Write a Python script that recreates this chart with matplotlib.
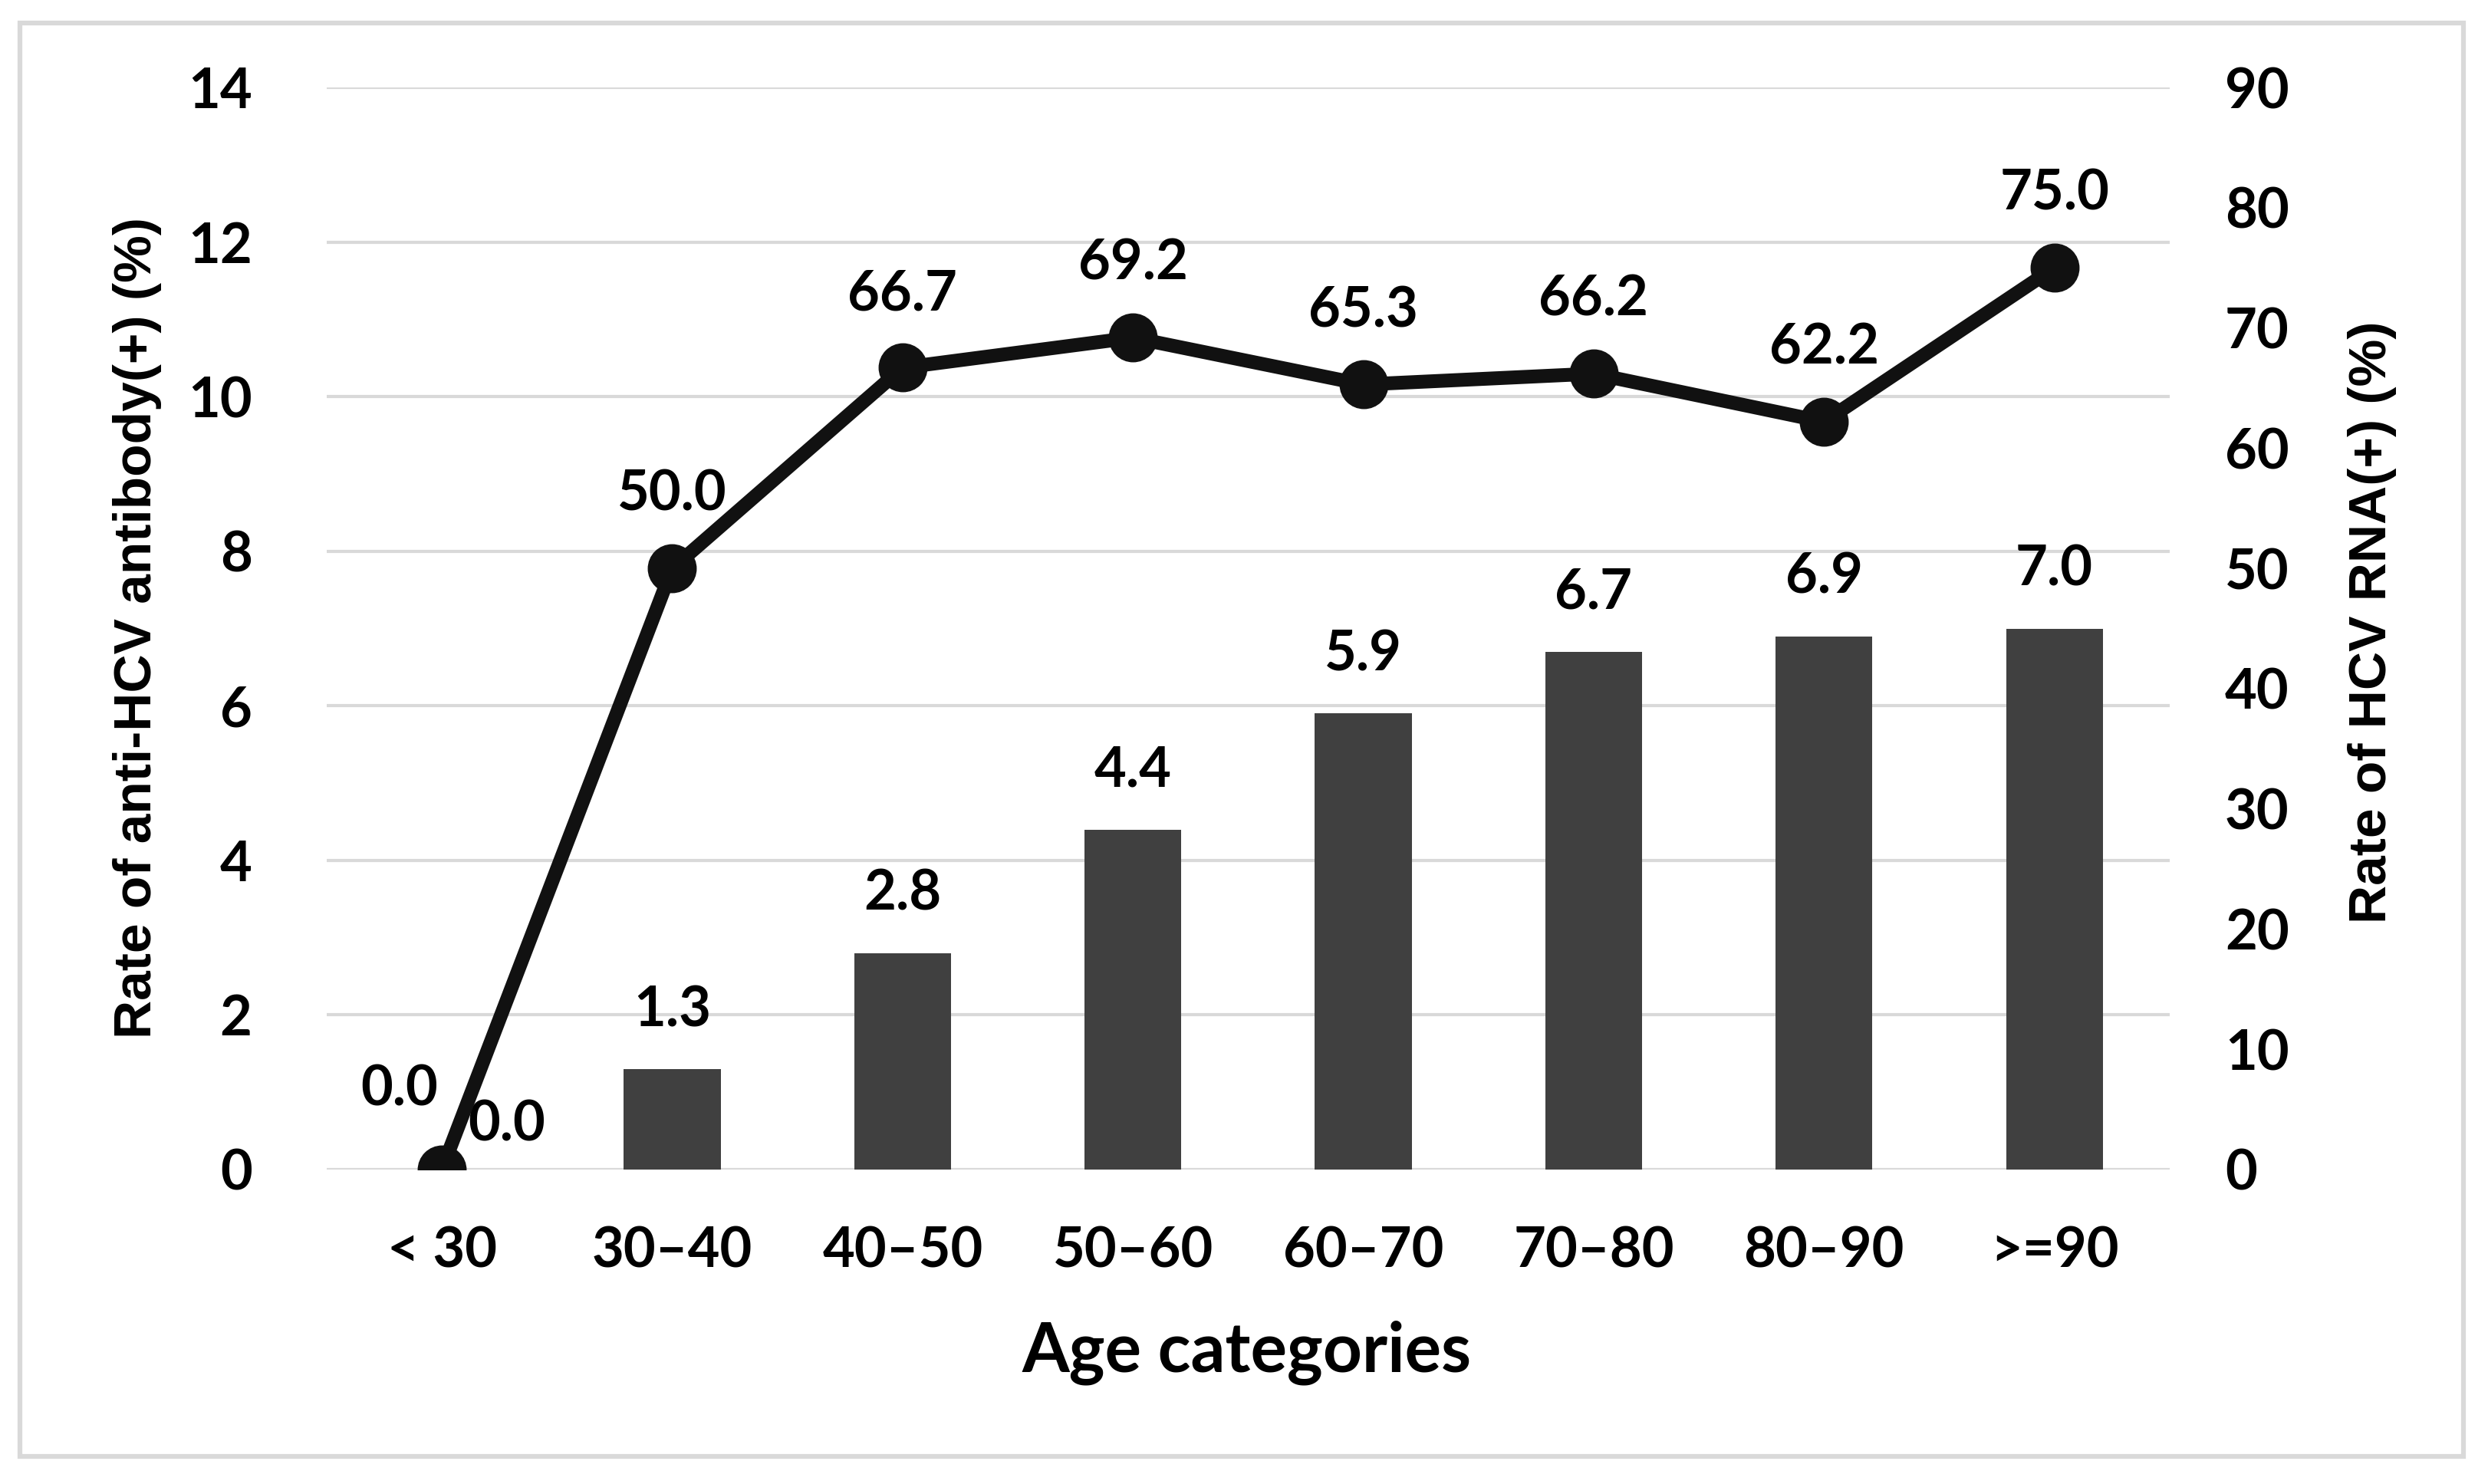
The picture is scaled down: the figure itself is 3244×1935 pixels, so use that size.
import matplotlib
matplotlib.use("Agg")
import matplotlib.pyplot as plt
from matplotlib.patches import Rectangle

# dados
categorias = ["< 30", "30\u201340", "40\u201350", "50\u201360", "60\u201370", "70\u201380", "80\u201390", ">=90"]
taxa_anticorpo = [0.0, 1.3, 2.8, 4.4, 5.9, 6.7, 6.9, 7.0]
taxa_rna = [0.0, 50.0, 66.7, 69.2, 65.3, 66.2, 62.2, 75.0]
ticks_esq = [0, 2, 4, 6, 8, 10, 12, 14]
ticks_dir = [0, 10, 20, 30, 40, 50, 60, 70, 80, 90]

fonte = ["Lato", "DejaVu Sans"]
fonte_estreita = ["Liberation Sans Narrow", "Liberation Sans", "DejaVu Sans"]

fig = plt.figure(figsize=(32.44, 19.35), dpi=100)
ax1 = fig.add_axes([0.1313, 0.2119, 0.8720 - 0.1313, 0.941 - 0.2119])
ax2 = ax1.twinx()

# moldura externa
fig.patches.append(Rectangle((0.008, 0.0186), 0.982, 0.966, transform=fig.transFigure,
                             fill=False, edgecolor="#d9d9d9", linewidth=4.5))

x = list(range(len(categorias)))

# barras
ax1.bar(x, taxa_anticorpo, width=0.42, color="#404040", linewidth=0, zorder=2)
ax1.set_ylim(0, 14)
ax1.set_xlim(-0.5, len(categorias) - 0.5)
ax1.set_yticks(ticks_esq)
ax1.yaxis.grid(True, color="#d9d9d9", linewidth=3)
ax1.set_axisbelow(True)

# linha
ax2.plot(x, taxa_rna, color="#111111", linewidth=13, marker="o", markersize=45, zorder=3)
ax2.set_ylim(0, 90)
ax2.set_yticks(ticks_dir)

for ax in (ax1, ax2):
    for s in ax.spines.values():
        s.set_visible(False)
    ax.tick_params(length=0)

ax1.set_xticks(x)
ax1.set_xticklabels(categorias, fontsize=52, fontweight="bold", family=fonte)
ax1.tick_params(axis="x", pad=53)
ax1.tick_params(axis="y", pad=70)
ax2.tick_params(axis="y", pad=52)
for lb in ax1.get_yticklabels() + ax2.get_yticklabels():
    lb.set_fontsize(52)
    lb.set_fontweight("bold")
    lb.set_family(fonte)

# rótulos das barras
for i, v in enumerate(taxa_anticorpo):
    if i == 0:
        dx, dy = 61, 42
    else:
        dx, dy = 0, 55
    ax1.annotate(f"{v:.1f}", (i, v), xytext=(dx, dy), textcoords="offset points",
                 ha="center", va="center", fontsize=52, fontweight="bold", family=fonte, zorder=5)

# rótulos da linha
for i, v in enumerate(taxa_rna):
    if i == 0:
        dx, dy = -40, 75
    else:
        dx, dy = 0, 69
    ax2.annotate(f"{v:.1f}", (i, v), xytext=(dx, dy), textcoords="offset points",
                 ha="center", va="center", fontsize=52, fontweight="bold", family=fonte, zorder=5)

# títulos dos eixos
fig.text(179 / 3244, 1 - 818 / 1935, "Rate of anti-HCV antibody(+) (%)", rotation=90,
         ha="center", va="center", fontsize=50, fontweight="bold", family=fonte_estreita)
fig.text(3093 / 3244, 1 - 811 / 1935, "Rate of HCV RNA(+) (%)", rotation=90,
         ha="center", va="center", fontsize=50, fontweight="bold", family=fonte_estreita)
fig.text(0.5 * (643 + 920) / 1560, 1 - 1764 / 1935, "Age categories",
         ha="center", va="center", fontsize=64, fontweight="bold", family=fonte)

fig.savefig("out.png", dpi=100, facecolor="white")
